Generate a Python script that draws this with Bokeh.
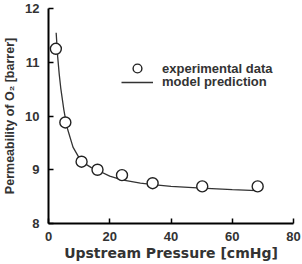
from bokeh.plotting import figure
from bokeh.models import Range1d, FixedTicker, Legend, LegendItem
from bokeh.embed import file_html
from bokeh.resources import INLINE

# experimental data
exp_x = [2.4, 5.5, 10.8, 16.0, 24.0, 34.0, 50.2, 68.3]
exp_y = [11.25, 9.88, 9.15, 9.0, 8.9, 8.75, 8.69, 8.69]

# model prediction
mod_x = [2.5, 3.0, 3.5, 4.0, 5.0, 6.0, 8.0, 10.0, 12.0, 14.0, 16.0, 20.0, 24.0, 30.0, 35.0, 40.0, 50.0, 60.0, 68.0]
mod_y = [11.55, 11.1, 10.78, 10.52, 10.12, 9.8, 9.42, 9.22, 9.11, 9.04, 8.99, 8.88, 8.81, 8.75, 8.72, 8.69, 8.66, 8.63, 8.61]

x_ticks = [0, 20, 40, 60, 80]
y_ticks = [8, 9, 10, 11, 12]

p = figure(width=302, height=264, output_backend="svg", toolbar_location=None,
           x_range=Range1d(0, 80), y_range=Range1d(8, 12),
           min_border_left=48, min_border_right=9, min_border_top=8, min_border_bottom=41)
p.outline_line_color = None
p.grid.visible = False
p.background_fill_color = "white"
p.border_fill_color = "white"

line = p.line(mod_x, mod_y, line_color="#333333", line_width=1.3)
circ = p.scatter(exp_x, exp_y, marker="circle", size=11, fill_color="white",
                 line_color="#222222", line_width=1.4)

for ax in (p.xaxis[0], p.yaxis[0]):
    ax.axis_line_color = "black"
    ax.axis_line_width = 2
    ax.major_tick_in = 5
    ax.major_tick_out = 0
    ax.major_tick_line_width = 1.5
    ax.minor_tick_line_color = None
    ax.major_label_text_font = "Liberation Sans"
    ax.major_label_text_font_style = "bold"
    ax.major_label_text_font_size = "13px"
    ax.major_label_text_color = "#333333"
    ax.axis_label_text_font_style = "bold"
    ax.axis_label_text_color = "#333333"

p.xaxis.ticker = FixedTicker(ticks=x_ticks)
p.yaxis.ticker = FixedTicker(ticks=y_ticks)
p.xaxis.axis_label = "Upstream Pressure [cmHg]"
p.xaxis.axis_label_text_font = "DejaVu Sans"
p.xaxis.axis_label_text_font_size = "14px"
p.xaxis.axis_label_standoff = 1
p.xaxis.major_label_standoff = 8
p.yaxis.axis_label = "Permeability of O\u2082 [barrer]"
p.yaxis.axis_label_text_font = "Liberation Sans"
p.yaxis.axis_label_text_font_size = "12.5px"
p.yaxis.axis_label_standoff = 5
p.yaxis.major_label_standoff = 9

common = dict(padding=0, margin=0, spacing=0, glyph_width=32, label_standoff=9,
              border_line_color=None, background_fill_alpha=0,
              label_text_font="Liberation Sans", label_text_font_style="bold",
              label_text_font_size="13px", label_text_color="#333333")
leg1 = Legend(items=[LegendItem(label="experimental data", renderers=[circ])],
              location=(73, 144), glyph_height=22, label_height=22, **common)
leg2 = Legend(items=[LegendItem(label="model prediction", renderers=[line])],
              location=(73, 134), glyph_height=14, label_height=14, **common)
p.add_layout(leg1)
p.add_layout(leg2)

open("out.html", "w").write(file_html(p, INLINE))
